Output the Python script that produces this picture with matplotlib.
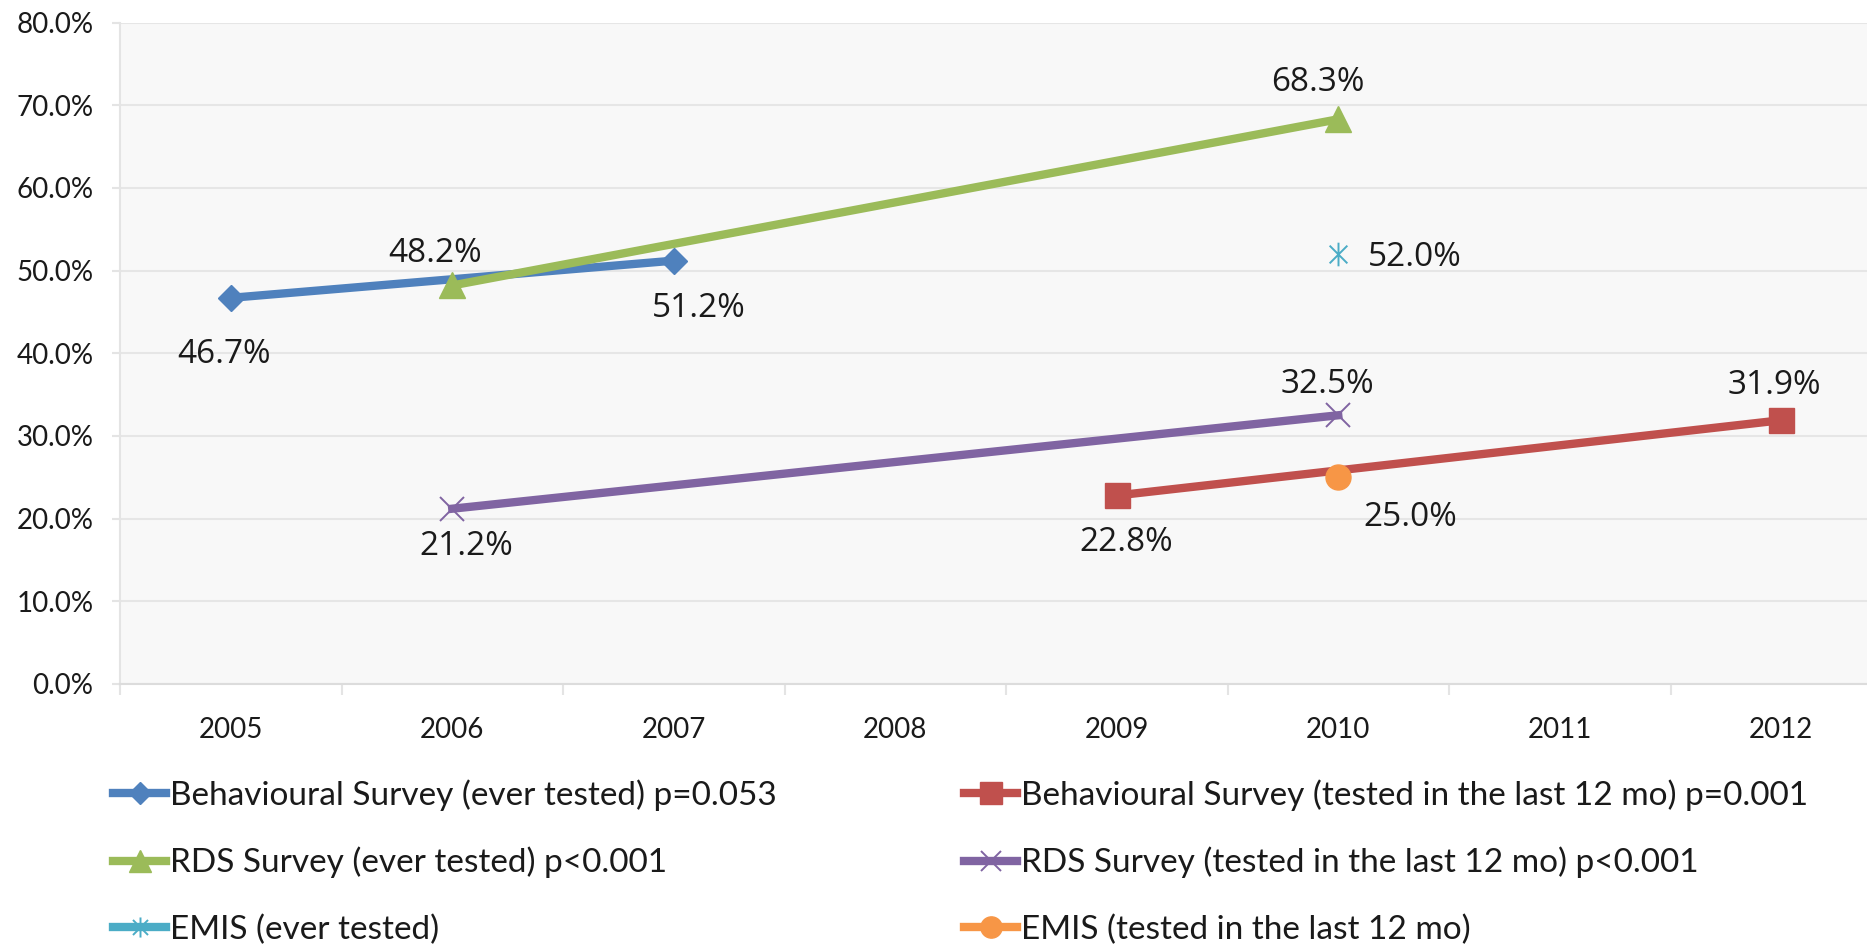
import numpy as np
import matplotlib
matplotlib.use('Agg')
import matplotlib.pyplot as plt
from matplotlib.path import Path
from matplotlib.ticker import FuncFormatter

# categories on the x axis
years = ['2005', '2006', '2007', '2008', '2009', '2010', '2011', '2012']

# series (percent)
beh_ever_years = ['2005', '2007']
beh_ever = [46.7, 51.2]
beh_12_years = ['2009', '2012']
beh_12 = [22.8, 31.9]
rds_ever_years = ['2006', '2010']
rds_ever = [48.2, 68.3]
rds_12_years = ['2006', '2010']
rds_12 = [21.2, 32.5]
emis_ever_years = ['2010']
emis_ever = [52.0]
emis_12_years = ['2010']
emis_12 = [25.0]

yticks = [0, 10, 20, 30, 40, 50, 60, 70, 80]

# excel style asterisk marker
star_path = Path([(0, -1), (0, 1), (-0.75, -0.75), (0.75, 0.75), (-0.75, 0.75), (0.75, -0.75)],
                 [Path.MOVETO, Path.LINETO, Path.MOVETO, Path.LINETO, Path.MOVETO, Path.LINETO])

colors = {'beh_ever': '#4F81BD', 'beh_12': '#C0504D', 'rds_ever': '#9BBB59',
          'rds_12': '#8064A2', 'emis_ever': '#4BACC6', 'emis_12': '#F79646'}

TICK_FONT = 'Lato'
LABEL_FONT = 'Open Sans'

fig = plt.figure(figsize=(18.67, 9.44), dpi=100)
ax = fig.add_axes([120 / 1867, 1 - 684 / 944, 1772 / 1867, (684 - 22.5) / 944])
ax.set_facecolor('#f8f8f8')

lw = 6.0


def xpos(ys):
    return [years.index(y) for y in ys]


h_beh_ever, = ax.plot(xpos(beh_ever_years), beh_ever, color=colors['beh_ever'], lw=lw,
                      marker='D', ms=13, zorder=4,
                      label='Behavioural Survey (ever tested) p=0.053')
h_rds_ever, = ax.plot(xpos(rds_ever_years), rds_ever, color=colors['rds_ever'], lw=lw,
                      marker='^', ms=19, zorder=4,
                      label='RDS Survey (ever tested) p<0.001')
h_emis_ever, = ax.plot(xpos(emis_ever_years), emis_ever, color=colors['emis_ever'], lw=lw,
                       marker=star_path, ms=17, mew=1.4, mfc='none', zorder=4,
                       label='EMIS (ever tested)')
h_beh_12, = ax.plot(xpos(beh_12_years), beh_12, color=colors['beh_12'], lw=lw,
                    marker='s', ms=18, zorder=4,
                    label='Behavioural Survey (tested in the last 12 mo) p=0.001')
h_rds_12, = ax.plot(xpos(rds_12_years), rds_12, color=colors['rds_12'], lw=lw,
                    marker='x', ms=17, mew=1.4, zorder=4,
                    label='RDS Survey (tested in the last 12 mo) p<0.001')
h_emis_12, = ax.plot(xpos(emis_12_years), emis_12, color=colors['emis_12'], lw=lw,
                     marker='o', ms=18, zorder=5,
                     label='EMIS (tested in the last 12 mo)')

# data labels: (x, y, dx px, dy px, ha)
labels = [
    (xpos(beh_ever_years)[0], beh_ever[0], -7, -57, 'center'),
    (xpos(beh_ever_years)[1], beh_ever[1], 25, -48, 'center'),
    (xpos(rds_ever_years)[0], rds_ever[0], -17, 32, 'center'),
    (xpos(rds_ever_years)[1], rds_ever[1], -20, 37, 'center'),
    (xpos(emis_ever_years)[0], emis_ever[0], 30, -3, 'left'),
    (xpos(rds_12_years)[0], rds_12[0], 14, -38, 'center'),
    (xpos(rds_12_years)[1], rds_12[1], -11, 31, 'center'),
    (xpos(beh_12_years)[0], beh_12[0], 9, -47, 'center'),
    (xpos(beh_12_years)[1], beh_12[1], -7, 35, 'center'),
    (xpos(emis_12_years)[0], emis_12[0], 72, -40, 'center'),
]
for x, y, dx, dy, ha in labels:
    ax.annotate(f"{y:.1f}%", (x, y), xytext=(dx, dy), textcoords='offset pixels',
                ha=ha, va='center', fontsize=24, family=LABEL_FONT, color='#1a1a1a', zorder=6)

ax.set_xlim(-0.5, len(years) - 0.5)
ax.set_ylim(0, 80)
ax.set_yticks(yticks)
ax.yaxis.set_major_formatter(FuncFormatter(lambda v, p: f"{v:.1f}%"))
ax.set_xticks(range(len(years)))
ax.set_xticklabels(years)
ax.set_xticks(np.arange(-0.5, len(years), 1.0), minor=True)

ax.grid(True, axis='y', color='#e6e6e6', lw=1.5, zorder=0)
ax.set_axisbelow(True)
for s in ['top', 'right']:
    ax.spines[s].set_visible(False)
ax.spines['left'].set_color('#e4e4e4')
ax.spines['bottom'].set_color('#dcdcdc')
ax.spines['left'].set_linewidth(1.5)
ax.spines['bottom'].set_linewidth(1.5)

ax.tick_params(axis='y', length=6, width=1.5, color='#e4e4e4', pad=13,
               labelsize=20, labelcolor='#1a1a1a')
ax.tick_params(axis='x', which='major', length=0, pad=24, labelsize=20, labelcolor='#1a1a1a')
ax.tick_params(axis='x', which='minor', length=8, width=1.5, color='#e4e4e4')
for t in ax.get_xticklabels() + ax.get_yticklabels():
    t.set_family(TICK_FONT)

leg_kw = dict(loc='upper left', frameon=False, borderpad=0, borderaxespad=0,
              handlelength=1.6, handletextpad=0.1, labelspacing=1.08,
              prop={'family': TICK_FONT, 'size': 24}, markerscale=0.85)
leg1 = fig.legend(handles=[h_beh_ever, h_rds_ever, h_emis_ever],
                  bbox_to_anchor=(113 / 1867, 1 - 779 / 944), **leg_kw)
leg2 = fig.legend(handles=[h_beh_12, h_rds_12, h_emis_12],
                  bbox_to_anchor=(964 / 1867, 1 - 779 / 944), **leg_kw)
for leg in (leg1, leg2):
    for t in leg.get_texts():
        t.set_color('#1a1a1a')

fig.savefig('out.png', dpi=100)
